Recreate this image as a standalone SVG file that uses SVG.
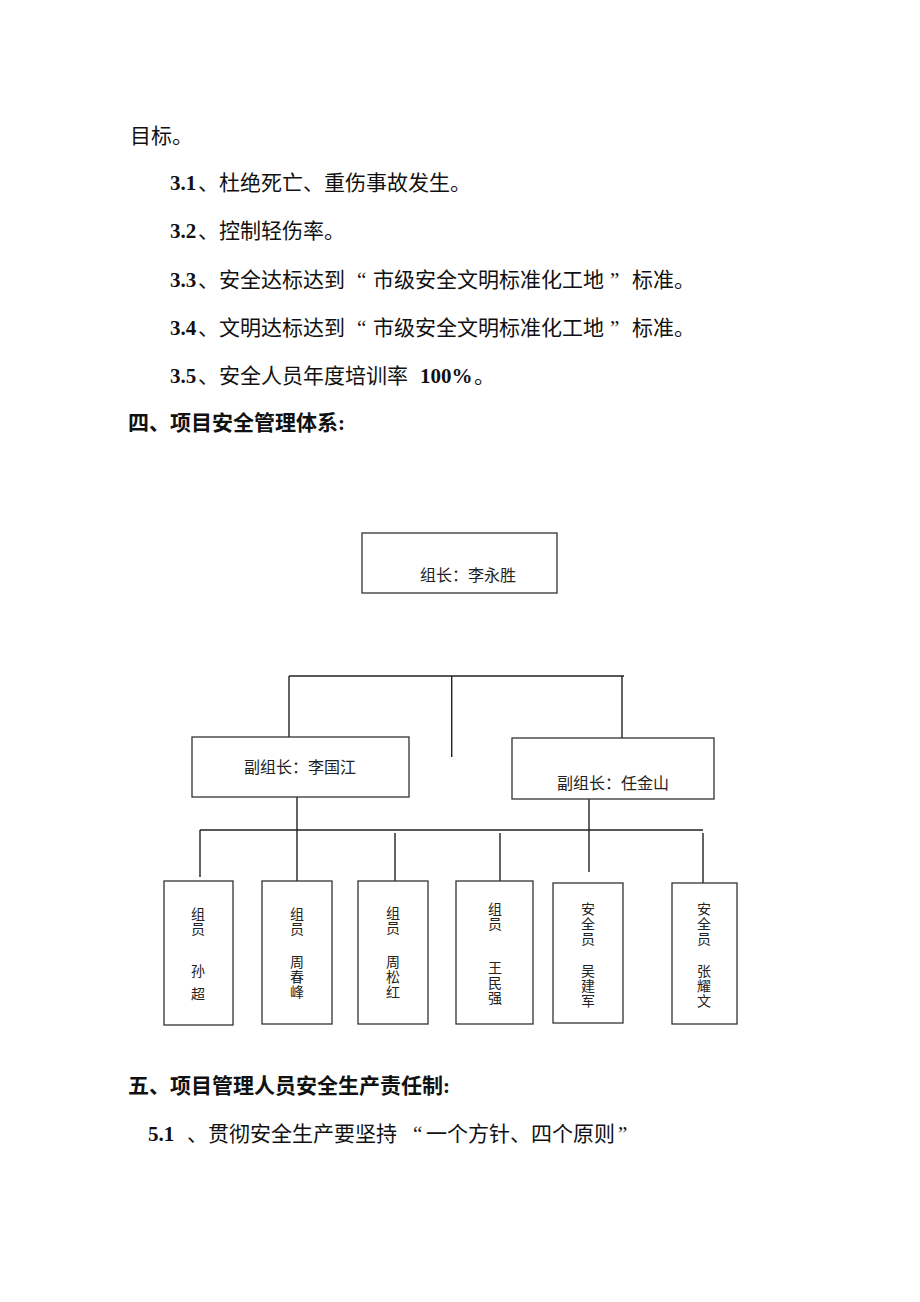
<svg xmlns="http://www.w3.org/2000/svg" width="920" height="1302" viewBox="0 0 920 1302">
<style>
.body{font-family:"Noto Sans CJK SC","Liberation Serif",sans-serif;font-size:21px;fill:#111}
.num{font-family:"Liberation Serif",serif;font-weight:bold;font-size:21px;fill:#111}
.quo{font-family:"Liberation Serif",serif;font-size:21px;fill:#111}
.head{font-family:"Noto Sans CJK SC",sans-serif;font-weight:bold;font-size:21px;fill:#111}
.box{fill:#fff;stroke:#333;stroke-width:1.3}
.lbl{font-family:"Noto Sans CJK SC",sans-serif;font-size:16px;fill:#222}
.vc{font-family:"Noto Sans CJK SC",sans-serif;font-size:14px;fill:#222;writing-mode:vertical-rl;letter-spacing:1px}
.ln{stroke:#222;stroke-width:1.4;fill:none}
</style>
<rect width="920" height="1302" fill="#fff"/>

<g id="text-top">
<text class="body" x="130" y="143">目标。</text>
<text y="190"><tspan class="num" x="170">3.1</tspan><tspan class="body" x="198">、杜绝死亡、重伤事故发生。</tspan></text>
<text y="238"><tspan class="num" x="170">3.2</tspan><tspan class="body" x="198">、控制轻伤率。</tspan></text>
<text y="286.5"><tspan class="num" x="170">3.3</tspan><tspan class="body" x="198">、安全达标达到</tspan><tspan class="quo" x="357">“</tspan><tspan class="body" x="373">市级安全文明标准化工地</tspan><tspan class="quo" x="610">”</tspan><tspan class="body" x="632">标准。</tspan></text>
<text y="335"><tspan class="num" x="170">3.4</tspan><tspan class="body" x="198">、文明达标达到</tspan><tspan class="quo" x="357">“</tspan><tspan class="body" x="373">市级安全文明标准化工地</tspan><tspan class="quo" x="610">”</tspan><tspan class="body" x="632">标准。</tspan></text>
<text y="383"><tspan class="num" x="170">3.5</tspan><tspan class="body" x="198">、安全人员年度培训率</tspan><tspan class="num" x="420">100%</tspan><tspan class="body" x="474">。</tspan></text>
<text class="head" x="128" y="430">四、项目安全管理体系<tspan class="num">:</tspan></text>
</g>

<g id="connectors">
<path class="ln" d="M289 676 H624 M289 676 V737 M451.7 676 V757 M622 676 V738"/>
<path class="ln" d="M200 830 H703 M200 830 V877 M297 797 V881 M395 833 V881 M500 833 V881 M589 799 V872 M703 833 V883"/>
</g>

<g id="leader">
<rect class="box" x="362" y="533" width="195" height="60"/>
<text class="lbl" x="420" y="581">组长：李永胜</text>
</g>
<g id="deputy-left">
<rect class="box" x="192" y="737" width="217" height="60"/>
<text class="lbl" x="244" y="773">副组长：李国江</text>
</g>
<g id="deputy-right">
<rect class="box" x="512" y="738" width="202" height="61"/>
<text class="lbl" x="557" y="789">副组长：任金山</text>
</g>

<g id="member-1">
<rect class="box" x="164" y="881" width="69" height="144"/>
<text class="vc" x="198" y="907">组员</text>
<text class="vc" x="198" y="964" style="letter-spacing:9px">孙超</text>
</g>
<g id="member-2">
<rect class="box" x="262" y="881" width="70" height="143"/>
<text class="vc" x="297" y="907">组员</text>
<text class="vc" x="297" y="955">周春峰</text>
</g>
<g id="member-3">
<rect class="box" x="358" y="881" width="70" height="143"/>
<text class="vc" x="393" y="906">组员</text>
<text class="vc" x="393" y="955">周松红</text>
</g>
<g id="member-4">
<rect class="box" x="456" y="881" width="77" height="143"/>
<text class="vc" x="495" y="902">组员</text>
<text class="vc" x="495" y="961">王民强</text>
</g>
<g id="safety-1">
<rect class="box" x="553" y="883" width="70" height="140"/>
<text class="vc" x="588" y="902">安全员</text>
<text class="vc" x="588" y="964">吴建军</text>
</g>
<g id="safety-2">
<rect class="box" x="672" y="883" width="65" height="141"/>
<text class="vc" x="704" y="902">安全员</text>
<text class="vc" x="704" y="964">张耀文</text>
</g>

<g id="text-bottom">
<text class="head" x="128" y="1093">五、项目管理人员安全生产责任制<tspan class="num">:</tspan></text>
<text y="1141"><tspan class="num" x="148">5.1</tspan><tspan class="body" x="187">、贯彻安全生产要坚持</tspan><tspan class="quo" x="413">“</tspan><tspan class="body" x="426">一个方针、四个原则</tspan><tspan class="quo" x="618">”</tspan></text>
</g>
</svg>
